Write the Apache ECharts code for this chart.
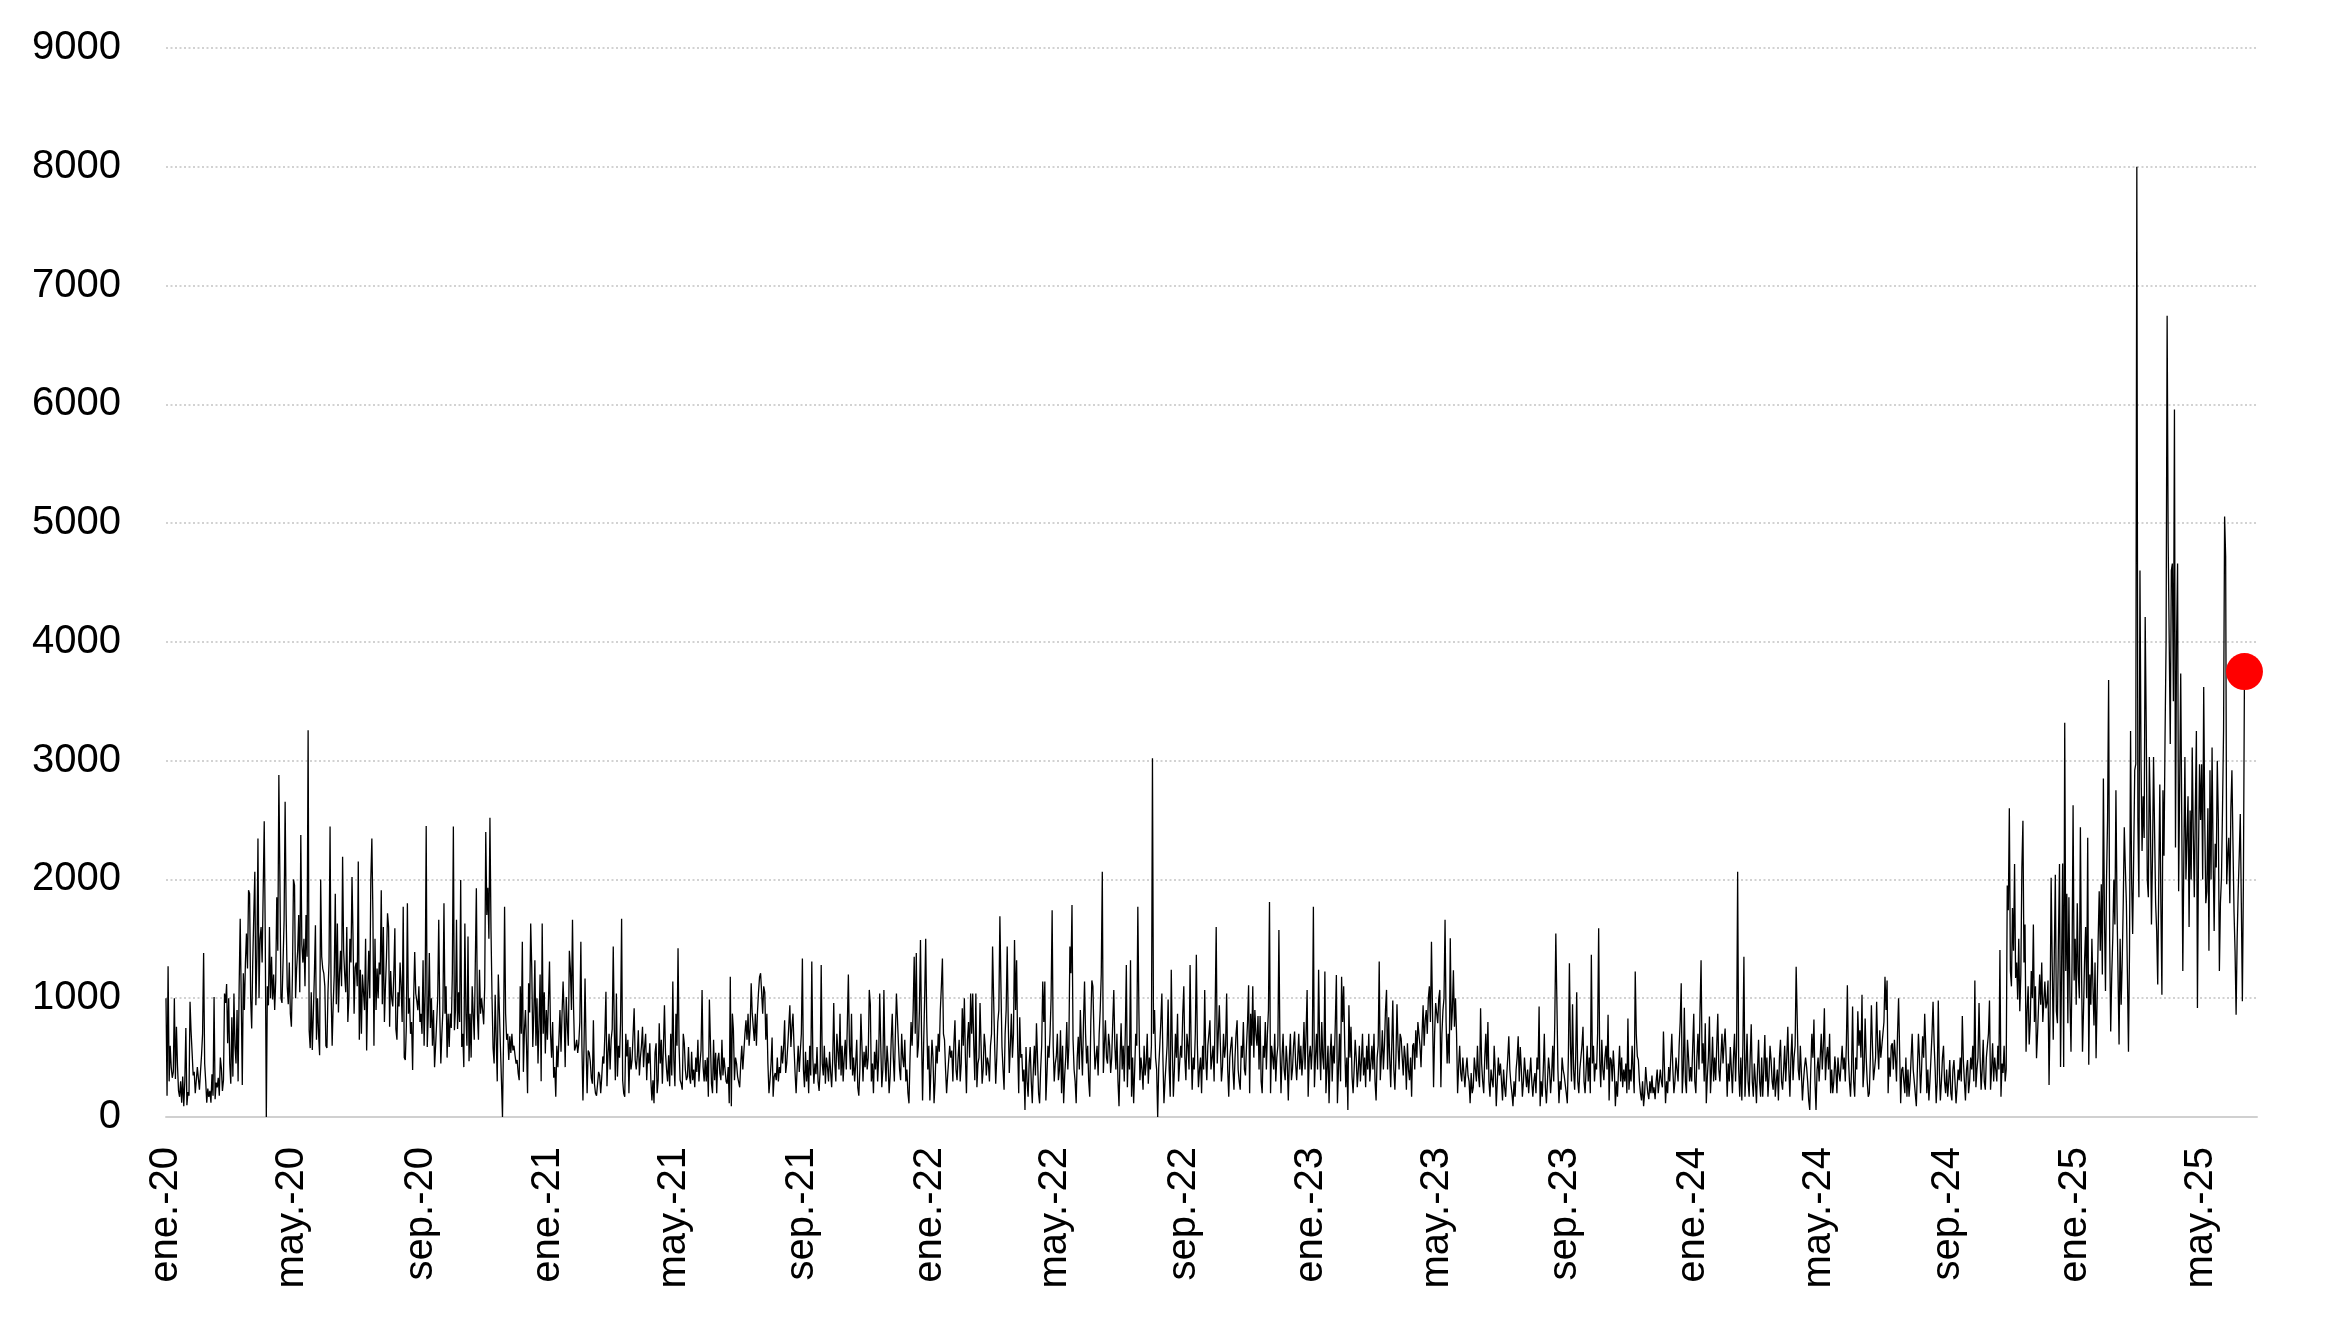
<!DOCTYPE html>
<html><head><meta charset="utf-8">
<script src="https://cdn.jsdelivr.net/npm/echarts@6/dist/echarts.min.js"></script>
<style>html,body{margin:0;padding:0;background:#fff}#c{width:2344px;height:1319px}</style>
</head><body><div id="c"></div>
<script>
// Daily values, one array per year (month blocks in order Jan..Dec)
const y2020 = [
1000,180,1270,300,600,420,330,380,1000,320,760,430,220,170,300,120,340,90,300,750,100,210,180,970,720,540,350,380,200,310,420,
430,230,380,520,700,1380,450,300,120,240,170,220,120,360,180,1010,150,290,250,330,180,500,410,220,310,1040,960,1120,620,
1000,450,280,840,340,1040,600,450,900,300,1100,1670,1000,270,1210,900,1300,1545,1250,1910,1880,1000,745,1300,1700,2065,940,1350,2345,1000,1500,
1600,1300,1900,2490,1500,0,1100,940,1600,1000,1350,990,1200,900,1150,1850,1400,2880,2000,1000,960,1300,1650,2655,1700,1100,950,1300,870,760,
1200,2000,1950,1000,1250,1400,1700,1050,2375,1450,1300,1500,1100,1700,1350,3257,730,580,1050,565,870,1200,1615,650,1000,700,520,2000,1350,1250,1210,
1100,600,580,1050,1300,2445,1050,600,950,1200,1880,950,1630,880,1200,1400,1100,2190,1400,1200,1050,1600,800,1000,1500,1300,2020,1500,870,1260,
1300,1100,2150,650,1240,700,1200,1050,900,1500,560,1050,1400,1000,2000,2345,1700,600,1500,900,1250,1000,1300,1200,1910,950,1600,800,1100,1350,1715,
1600,760,1230,1000,930,1200,1590,740,650,1050,930,1300,1100,800,1770,500,480,760,1800,870,1000,700,800,395,1000,1390,1040,980,900,1100,800,
870,700,1320,600,1050,2450,590,870,1380,750,1000,600,900,420,600,800,1000,1660,870,450,700,900,1800,870,1100,500,870,590,870,750,
1200,2445,730,900,1660,740,1050,800,1995,590,700,420,1630,870,600,1520,470,870,500,1100,870,650,1300,1925,870,650,1240,870,1000,900,780,
1100,2400,1700,1930,1500,2520,1580,1000,580,450,1030,650,300,1200,900,600,310,0,650,1770,870,650,700,480,680,540,700,560,600,520,
450,480,370,310,1100,700,1475,380,730,900,600,200,1125,880,1630,1260,590,880,1320,600,1000,450,800,1200,300,1630,700,1050,535,900,650
];
const y2021 = [
650,1310,700,500,800,330,420,170,600,420,650,900,550,870,1140,870,420,1010,780,600,1400,1240,900,1660,930,560,590,650,540,620,800,
1475,600,140,580,1165,590,200,560,540,470,330,280,815,280,200,180,280,380,350,200,340,510,450,700,1055,260,540,700,
400,650,740,1435,740,310,1040,340,600,500,800,1670,310,200,170,700,510,650,200,590,400,480,700,915,480,400,510,730,350,500,600,
760,420,590,700,310,540,450,620,310,140,310,115,540,620,200,310,790,450,650,280,590,940,540,400,300,520,260,700,350,1140,
480,260,870,600,1420,590,310,280,230,700,620,400,310,340,590,340,280,550,310,400,250,500,380,650,300,450,560,1070,420,300,480,
300,500,170,990,1000,280,200,650,310,540,200,480,540,370,310,650,350,500,400,300,280,420,115,1180,90,870,730,310,500,450,
340,340,250,450,600,400,550,700,815,650,870,600,750,1125,870,880,640,870,600,880,1050,1180,1210,1050,870,1100,1050,650,870,450,200,
310,450,670,170,340,370,310,500,300,420,370,600,450,580,815,370,450,600,590,940,590,760,870,590,370,200,420,600,380,550,700,
1335,400,250,550,300,480,200,600,350,1310,500,280,450,360,590,300,220,400,1280,450,350,600,280,500,420,300,550,380,250,480,
960,450,300,700,550,400,870,350,600,300,500,650,400,780,1200,600,400,870,350,500,300,450,650,250,180,400,870,600,300,550,420,
600,400,500,1070,950,300,450,200,550,400,650,300,500,1040,600,250,400,1070,500,300,600,450,200,350,650,870,500,300,700,1040,
1050,600,400,310,700,500,420,650,300,400,200,115,500,800,600,900,1350,700,1380,500,600,900,1490,700,140,600,1000,1500,800,400,600
];
const y2022 = [
140,400,650,500,115,300,600,450,700,550,900,1100,1335,700,650,400,200,350,480,600,500,560,300,620,815,400,310,500,650,300,450,
915,600,1000,500,200,650,800,500,1040,700,1040,600,310,1040,250,450,500,960,600,280,400,700,590,350,500,450,300,600,
700,1435,1000,600,280,500,800,900,1690,1100,590,400,230,700,900,1435,800,370,600,870,500,700,1490,900,1320,600,200,840,500,530,300,
400,60,590,300,170,450,590,300,115,400,600,350,790,500,200,115,400,600,1140,800,1140,140,350,600,500,700,1000,1740,600,300,
450,510,700,310,400,730,200,600,115,350,500,800,400,600,1435,1210,1785,650,400,300,115,500,675,400,900,600,350,800,1140,700,450,
600,300,170,800,1150,1100,700,400,500,600,350,700,900,1200,2065,370,600,815,500,450,700,600,370,500,800,1070,600,400,700,300,
90,500,790,400,600,300,700,1280,250,600,400,1320,170,500,115,400,700,600,1770,900,310,500,400,230,600,350,450,700,280,500,400,
600,3020,700,900,500,400,0,420,600,800,1040,500,115,300,450,600,990,400,170,1240,600,170,400,700,500,870,300,450,600,500,870,
1100,500,310,700,600,400,1280,600,230,500,400,700,1365,600,250,400,500,200,600,400,1070,500,310,600,700,815,400,500,600,300,
900,1600,450,700,940,600,300,420,700,500,600,1040,400,170,500,600,675,400,230,500,700,815,400,300,230,600,500,800,400,350,600,
800,1110,200,870,600,1100,500,900,700,600,850,400,850,300,200,600,500,800,400,700,900,1810,200,600,510,400,700,300,500,600,
1575,600,200,500,700,400,310,600,450,140,500,700,310,400,600,720,450,310,500,700,400,600,350,500,800,400,700,1070,170,500,600
];
const y2023 = [
400,600,1770,250,500,700,400,1240,600,310,800,500,400,1225,200,400,600,115,500,700,300,600,450,800,1195,115,400,700,300,1180,800,
1100,600,250,500,60,940,500,760,340,200,400,650,500,250,400,600,300,480,700,350,500,250,600,400,700,300,450,600,
400,700,300,140,500,600,1310,310,500,730,400,600,900,1070,400,840,500,250,600,980,400,230,500,950,600,400,700,660,500,350,600,
500,230,620,400,310,500,170,600,620,400,730,500,800,790,600,420,700,940,600,815,900,700,1000,1100,800,1475,900,250,700,960,
960,790,1000,1070,250,700,900,1000,1660,800,450,700,450,1505,730,900,1235,760,1000,700,200,420,600,370,300,500,370,250,400,500,350,
300,115,370,200,250,500,400,300,600,350,250,915,450,300,200,500,700,400,800,300,170,400,310,250,600,400,90,300,500,350,
450,300,140,400,250,170,350,500,680,400,280,200,90,300,170,400,500,680,300,590,400,170,300,500,370,250,400,200,350,500,300,
170,300,370,200,500,400,930,90,300,170,400,700,250,115,300,500,400,200,350,600,300,800,1545,980,400,115,300,230,500,400,350,
350,200,115,500,1295,600,300,950,400,230,500,1050,300,200,400,500,600,760,300,200,400,600,300,500,200,1365,450,600,300,450,
400,700,1590,480,250,650,400,310,500,600,400,860,140,500,480,300,560,400,90,300,170,400,600,300,500,250,400,300,450,200,830,
230,400,300,600,400,200,1225,700,510,480,300,200,140,300,90,200,420,300,200,150,300,200,350,200,250,150,300,400,200,300,
400,300,250,720,400,115,300,200,420,300,500,700,400,200,300,500,400,300,600,800,1125,200,400,920,300,200,650,500,300,420,300
];
const y2024 = [
600,870,300,200,500,700,400,900,1320,450,620,300,790,115,340,500,845,200,400,675,300,500,310,600,870,400,300,500,700,450,620,
745,500,170,450,300,590,400,200,500,700,300,600,2065,400,170,500,140,600,1350,170,400,700,300,170,500,780,300,170,450,
300,115,400,650,300,170,500,170,400,690,300,500,170,340,600,480,300,230,500,170,300,400,140,500,650,300,230,400,600,300,500,
760,400,170,500,700,310,500,600,1265,820,400,310,600,370,140,300,420,500,420,300,140,60,400,700,500,820,300,60,400,500,
300,500,700,400,600,915,310,500,590,400,700,200,400,200,300,510,400,200,500,370,300,310,600,400,500,300,600,1110,500,300,170,
400,930,300,170,500,400,890,600,730,500,1030,250,400,830,500,300,170,200,500,940,600,310,400,500,970,600,400,730,500,600,
600,800,1180,900,1150,200,500,340,600,620,400,650,500,300,700,1000,1000,115,400,420,300,200,500,170,400,170,300,500,700,400,300,
300,90,400,700,500,200,400,680,500,870,600,200,400,140,300,500,700,970,620,400,115,300,980,400,140,300,500,600,300,200,400,
170,300,480,200,140,400,480,300,115,250,400,310,500,300,850,480,300,140,400,480,200,300,500,400,600,300,1150,250,400,500,
960,500,230,400,650,300,230,500,510,700,980,230,400,620,300,500,400,300,600,400,1405,170,450,370,600,300,400,1950,1740,2600,1230,
1100,1760,1400,2130,1170,1300,990,1500,890,1200,2100,2495,1300,1620,550,900,1100,610,800,1230,1000,1620,800,1100,495,700,945,1200,945,1300,
800,970,1140,915,960,1150,270,900,2015,1300,650,665,2040,890,790,1500,2130,420,410,2135,420,3320,1230,1880,790,1850,1000,550,1300,2625,1150
];
const y2025 = [
1500,945,1800,1200,1000,2440,1300,550,900,1320,1600,1000,2350,440,1200,945,1500,1100,770,1300,495,1000,1500,1900,1400,1960,1200,2850,1700,1060,2000,
2500,3680,1500,720,1200,1510,2000,1620,2750,1800,1200,610,1500,945,1300,1800,2440,2100,1800,1200,550,1400,3250,2000,1540,2200,2920,2970,
8000,2500,1850,4600,3000,2240,2700,2350,4210,3300,2000,1850,3030,2500,1620,2200,3030,2400,1800,1565,1115,2000,2800,1800,1030,2750,2200,3200,4000,6745,4830,
4000,3140,4600,4660,3500,5957,2270,4000,4660,1900,2800,3733,2500,1230,2200,3030,2000,2350,2700,1600,2580,2000,3110,2400,1850,2600,3250,917,2200,2970,
2500,2970,2000,3620,2500,1800,1900,2600,1400,2920,2000,3110,2200,1565,2300,2100,3000,2500,1230,1800,2015,2600,3250,5056,4720,1960,2200,2350,1800,2600,2920,
2300,1730,1400,860,1500,1900,2200,2550,1800,975,2000,3750
];

// Axis definitions
const startDate = '2020-01-01';
const axisEndDate = '2025-06-24';
const monthAbbr = ['ene.','feb.','mar.','abr.','may.','jun.','jul.','ago.','sep.','oct.','nov.','dic.'];
const labelMonths = [0, 4, 8];
const yMin = 0, yMax = 9000, yStep = 1000;

const values = [].concat(y2020, y2021, y2022, y2023, y2024, y2025);

const DAY = 86400000;
const t0 = Date.parse(startDate + 'T00:00:00Z');
const tEnd = Date.parse(axisEndDate + 'T00:00:00Z');
const nCats = Math.max(values.length, Math.round((tEnd - t0) / DAY) + 1);
const dates = [];
for (let i = 0; i < nCats; i++) {
  dates.push(new Date(t0 + i * DAY).toISOString().slice(0, 10));
}
const lineData = dates.map((d, i) => (i < values.length ? values[i] : null));
const lastIdx = values.length - 1;

function isLabelDay(dstr) {
  const m = +dstr.slice(5, 7) - 1, day = +dstr.slice(8, 10);
  return day === 1 && labelMonths.includes(m);
}
function fmt(dstr) {
  const m = +dstr.slice(5, 7) - 1;
  return monthAbbr[m] + '-' + dstr.slice(2, 4);
}

const FONT = '"Liberation Sans", Arial, sans-serif';
const chart = echarts.init(document.getElementById('c'), null, {renderer: 'canvas'});
chart.setOption({
  animation: false,
  backgroundColor: '#ffffff',
  grid: {left: 166, right: 87, top: 48, bottom: 202, containLabel: false},
  xAxis: {
    type: 'category',
    data: dates,
    boundaryGap: false,
    axisLine: {show: true, lineStyle: {color: '#d0d0d0', width: 2}},
    axisTick: {show: false},
    splitLine: {show: false},
    axisLabel: {
      interval: (idx, val) => isLabelDay(val),
      formatter: (val) => fmt(val),
      rotate: 90,
      margin: 30,
      fontSize: 40,
      fontFamily: FONT,
      color: '#000'
    }
  },
  yAxis: {
    type: 'value',
    min: yMin, max: yMax, interval: yStep,
    axisLine: {show: false},
    axisTick: {show: false},
    axisLabel: {fontSize: 40, fontFamily: FONT, color: '#000', margin: 45, formatter: (v) => String(v)},
    splitLine: {show: true, lineStyle: {color: '#c4c4c4', width: 1.5, type: [2, 2.5]}}
  },
  series: [
    {
      type: 'line',
      data: lineData,
      showSymbol: false,
      symbol: 'none',
      sampling: null,
      lineStyle: {color: '#000', width: 1.3},
      z: 2
    },
    {
      type: 'scatter',
      data: [[dates[lastIdx], values[lastIdx]]],
      symbol: 'circle',
      symbolSize: 37,
      itemStyle: {color: '#ff0000', opacity: 1},
      z: 5
    }
  ]
});
</script>
</body></html>
